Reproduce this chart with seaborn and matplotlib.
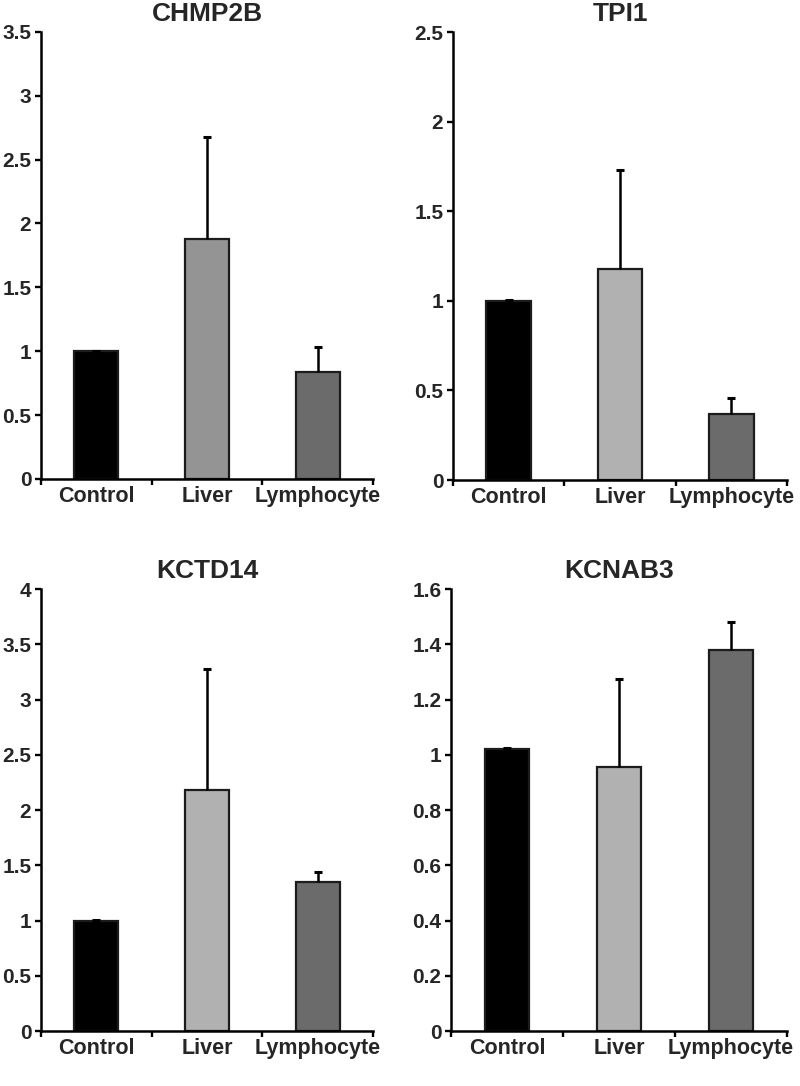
import numpy as np
import pandas as pd
import matplotlib
matplotlib.use("Agg")
import matplotlib.pyplot as plt
import seaborn as sns

# ── data ──
categories = ["Control", "Liver", "Lymphocyte"]
genes = ["CHMP2B", "TPI1", "KCTD14", "KCNAB3"]

chmp2b_mean = [1.0, 1.88, 0.84]
chmp2b_err = [0.005, 0.80, 0.19]
tpi1_mean = [1.0, 1.18, 0.37]
tpi1_err = [0.005, 0.55, 0.085]
kctd14_mean = [1.0, 2.18, 1.35]
kctd14_err = [0.005, 1.10, 0.085]
kcnab3_mean = [1.02, 0.955, 1.38]
kcnab3_err = [0.005, 0.32, 0.10]

y_max = [3.5, 2.5, 4.0, 1.6]
y_step = [0.5, 0.5, 0.5, 0.2]

means = [chmp2b_mean, tpi1_mean, kctd14_mean, kcnab3_mean]
errs = [chmp2b_err, tpi1_err, kctd14_err, kcnab3_err]

bar_colors = [
    ["#000000", "#949494", "#6b6b6b"],
    ["#000000", "#b1b1b1", "#6b6b6b"],
    ["#000000", "#b1b1b1", "#6b6b6b"],
    ["#000000", "#b1b1b1", "#6b6b6b"],
]

sns.set_style("ticks")
plt.rcParams["font.family"] = ["Liberation Sans", "DejaVu Sans"]
plt.rcParams["font.weight"] = "bold"

fig = plt.figure(figsize=(8, 10.86), dpi=100, facecolor="white")
positions = [
    [0.05125, 0.5590, 0.415, 0.4116],
    [0.5663, 0.5580, 0.4175, 0.4125],
    [0.05125, 0.0506, 0.415, 0.4070],
    [0.5638, 0.0506, 0.4200, 0.4070],
]

for i, gene in enumerate(genes):
    ax = fig.add_axes(positions[i])
    df = pd.DataFrame({"group": categories, "value": means[i]})
    sns.barplot(data=df, x="group", y="value", hue="group",
                palette=bar_colors[i], width=0.4, errorbar=None,
                edgecolor="#1c1c1c", linewidth=1.6, legend=False, ax=ax,
                zorder=2)
    xs = np.arange(len(categories))
    eb = ax.errorbar(xs, means[i], yerr=[np.zeros(len(categories)), errs[i]],
                     fmt="none", ecolor="black", elinewidth=1.8, capsize=2.6,
                     capthick=2.2, zorder=3)
    # one-sided bars: hide the lower cap
    eb[1][0].set_visible(False)

    ax.set_xlim(-0.5, 2.5)
    ax.set_ylim(0, y_max[i])
    yt = np.round(np.arange(0, y_max[i] + 1e-9, y_step[i]), 2)
    ax.set_yticks(yt)
    ax.set_yticklabels([f"{v:g}" for v in yt], fontsize=15, fontweight="bold")

    ax.set_xticks(xs)
    ax.set_xticklabels(categories, fontsize=15.5, fontweight="bold")
    ax.set_xticks([-0.5, 0.5, 1.5, 2.5], minor=True)
    ax.tick_params(axis="x", which="major", length=0, pad=5)
    ax.tick_params(axis="x", which="minor", length=4, width=1.7,
                   direction="out", color="black")
    ax.tick_params(axis="y", length=4, width=1.7, direction="out",
                   color="black", pad=3)

    ax.set_xlabel("")
    ax.set_ylabel("")
    ax.set_title(gene, fontsize=19, fontweight="bold", pad=8)

    sns.despine(ax=ax)
    for side in ["left", "bottom"]:
        ax.spines[side].set_linewidth(1.8)
        ax.spines[side].set_color("black")

plt.savefig("out.png", dpi=100, facecolor="white")
plt.close()
